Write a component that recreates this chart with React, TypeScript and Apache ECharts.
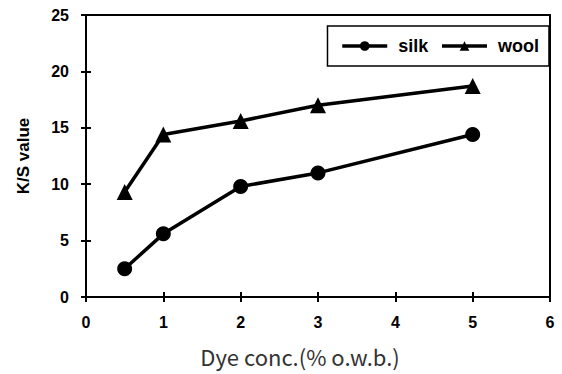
import React, { useEffect, useRef } from "react";
import * as echarts from "echarts";

const conc = [0.5, 1, 2, 3, 5];
const silk = [2.5, 5.6, 9.8, 11.0, 14.4];
const wool = [9.3, 14.4, 15.6, 17.0, 18.7];
const seriesNames = ["silk", "wool"];
const xTitle = "Dye conc.(% o.w.b.)";
const yTitle = "K/S value";

export default function App() {
  const ref = useRef<HTMLDivElement>(null);
  useEffect(() => {
    const chart = echarts.init(ref.current!, null, { renderer: "svg" });
    const font = "'Liberation Sans', Arial, sans-serif";
    const axisCommon = {
      min: 0,
      axisLine: { show: true, lineStyle: { color: "#000", width: 2 } },
      splitLine: { show: false },
    };
    chart.setOption({
      animation: false,
      backgroundColor: "#fff",
      grid: { left: 86, right: 12, top: 15, bottom: 77, show: true, borderColor: "#000", borderWidth: 2, containLabel: false },
      legend: {
        top: 26,
        right: 13,
        data: seriesNames,
        itemWidth: 45,
        itemHeight: 12,
        itemGap: 12,
        borderColor: "#000",
        borderWidth: 1.5,
        padding: [11, 10, 11, 13],
        lineStyle: { width: 3.5 },
        textStyle: { fontFamily: font, fontWeight: "bold", fontSize: 18, color: "#000", padding: [0, 0, 0, 6] },
      },
      xAxis: [
        {
          ...axisCommon,
          type: "value",
          max: 6,
          interval: 1,
          axisTick: { show: true, inside: true, length: 5, lineStyle: { color: "#000", width: 2 } },
          axisLabel: { margin: 17, fontFamily: font, fontWeight: "bold", fontSize: 16, color: "#000" },
          name: xTitle,
          nameLocation: "middle",
          nameGap: 48,
          nameTextStyle: { fontFamily: "'Noto Sans CJK KR', sans-serif", fontSize: 22, color: "#333", padding: [0, 36, 0, 0] },
        },
        {
          type: "value",
          min: 0,
          max: 6,
          interval: 1,
          position: "bottom",
          axisLine: { show: false },
          axisTick: { show: true, inside: false, length: 5, lineStyle: { color: "#000", width: 2 } },
          axisLabel: { show: false },
          splitLine: { show: false },
        },
      ],
      yAxis: [
        {
          ...axisCommon,
          type: "value",
          max: 25,
          interval: 5,
          axisTick: { show: true, inside: true, length: 5, lineStyle: { color: "#000", width: 2 } },
          axisLabel: { margin: 17, fontFamily: font, fontWeight: "bold", fontSize: 16, color: "#000" },
          name: yTitle,
          nameLocation: "middle",
          nameGap: 54,
          nameTextStyle: { fontFamily: font, fontWeight: "bold", fontSize: 17, color: "#000" },
        },
        {
          type: "value",
          min: 0,
          max: 25,
          interval: 5,
          position: "left",
          axisLine: { show: false },
          axisTick: { show: true, inside: false, length: 5, lineStyle: { color: "#000", width: 2 } },
          axisLabel: { show: false },
          splitLine: { show: false },
        },
      ],
      series: [
        {
          name: seriesNames[0],
          type: "line",
          data: conc.map((c, i) => [c, silk[i]]),
          symbol: "circle",
          symbolSize: 15,
          itemStyle: { color: "#000" },
          lineStyle: { color: "#000", width: 3.5 },
        },
        {
          name: seriesNames[1],
          type: "line",
          data: conc.map((c, i) => [c, wool[i]]),
          symbol: "triangle",
          symbolSize: 16,
          itemStyle: { color: "#000" },
          lineStyle: { color: "#000", width: 3.5 },
        },
      ],
    });
    return () => chart.dispose();
  }, []);
  return <div ref={ref} style={{ position: "fixed", left: 0, top: 0, width: 562, height: 374 }} />;
}
